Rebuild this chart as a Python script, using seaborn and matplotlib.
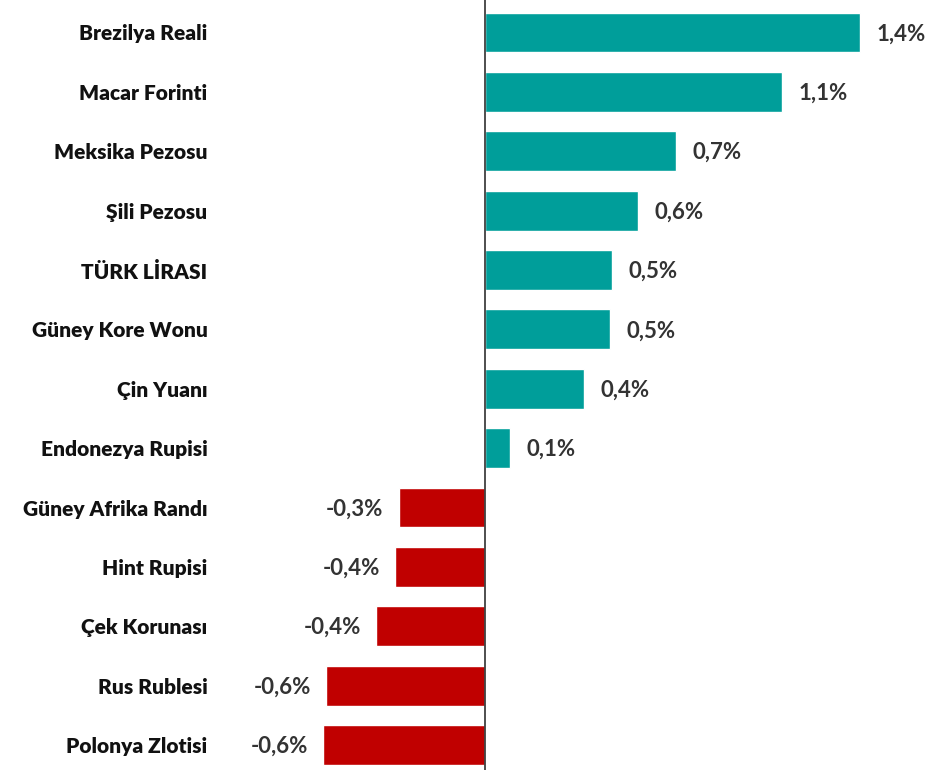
import matplotlib
matplotlib.use("Agg")
import matplotlib.pyplot as plt
import seaborn as sns
import pandas as pd

# currencies vs USD, weekly change (%)
categories = ["Brezilya Reali", "Macar Forinti", "Meksika Pezosu", "Şili Pezosu",
              "TÜRK LİRASI", "Güney Kore Wonu", "Çin Yuanı", "Endonezya Rupisi",
              "Güney Afrika Randı", "Hint Rupisi", "Çek Korunası", "Rus Rublesi",
              "Polonya Zlotisi"]
values = [1.415, 1.12, 0.72, 0.577, 0.479, 0.472, 0.374, 0.094,
          -0.325, -0.34, -0.41, -0.60, -0.61]
value_labels = ["1,4%", "1,1%", "0,7%", "0,6%", "0,5%", "0,5%", "0,4%", "0,1%",
                "-0,3%", "-0,4%", "-0,4%", "-0,6%", "-0,6%"]

df = pd.DataFrame({"cur": categories, "val": values})
df["sign"] = ["pos" if v >= 0 else "neg" for v in values]

sns.set_style("white")
plt.rcParams["font.family"] = ["Lato", "DejaVu Sans"]

fig = plt.figure(figsize=(9.35, 7.7), dpi=100)
ax = fig.add_axes([220 / 935, 0, 715 / 935, 1])

sns.barplot(data=df, x="val", y="cur", hue="sign", dodge=False, legend=False,
            palette={"pos": "#009E9A", "neg": "#C00000"}, width=0.67,
            saturation=1, ax=ax)

ax.set_xlim(-1.0, 1.698)
ax.set_ylim(12.42, -0.547)
ax.axvline(0, color="#404040", lw=1.3, zorder=5)

for i, (v, lab) in enumerate(zip(values, value_labels)):
    if v >= 0:
        ax.annotate(lab, (v, i), xytext=(12, -1), textcoords="offset points",
                    ha="left", va="center", fontsize=16, fontweight="bold",
                    color="#333333")
    else:
        ax.annotate(lab, (v, i), xytext=(-11, -1), textcoords="offset points",
                    ha="right", va="center", fontsize=16, fontweight="bold",
                    color="#333333")

ax.set_xticks([])
ax.set_xlabel("")
ax.set_ylabel("")
ax.tick_params(axis="y", length=0, pad=9)
for t in ax.get_yticklabels():
    t.set_fontsize(15)
    t.set_fontweight("heavy")
    t.set_color("#111111")
sns.despine(ax=ax, left=True, bottom=True)

fig.savefig("out.png", dpi=100)
